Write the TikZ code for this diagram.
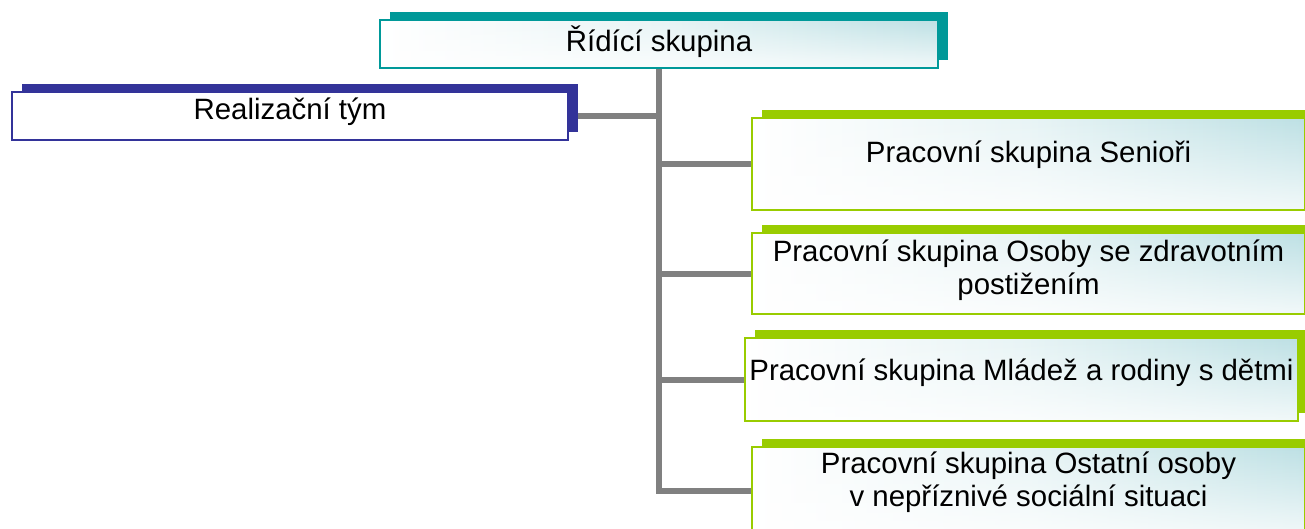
\documentclass[tikz,border=0pt]{standalone}
\usepackage{fontspec}
\setmainfont{Liberation Sans}
\usetikzlibrary{shadows,backgrounds,fadings}
\definecolor{tealc}{HTML}{009999}
\definecolor{navyc}{HTML}{333399}
\definecolor{greenc}{HTML}{99CC00}
\definecolor{linec}{HTML}{808080}
\definecolor{paleteal}{HTML}{BDE0E4}
\tikzset{
  box/.style={rectangle, draw=#1, line width=2pt, inner sep=0pt,
    left color=white, right color=paleteal, middle color=paleteal!35!white,
    path picture={\fill[white, path fading=north, fill opacity=0.8]
      (path picture bounding box.south west) rectangle (path picture bounding box.north east);},
    general shadow={fill=#1, shadow xshift=10pt, shadow yshift=8pt}},
  plainbox/.style={rectangle, draw=#1, line width=1.5pt, inner sep=0pt, fill=white,
    general shadow={fill=#1, shadow xshift=10pt, shadow yshift=8pt}},
  lbl/.style={font=\fontsize{29.4}{33}\selectfont, align=center, inner sep=0pt},
  conn/.style={draw=linec, line width=6pt}
}
\begin{document}
\begin{tikzpicture}[x=1pt,y=-1pt]
\useasboundingbox (0,0) rectangle (1305,528);
% boxes
\node[box=tealc, minimum width=558pt, minimum height=48pt] (rid) at (659,44) {};
\node[plainbox=navyc, minimum width=556pt, minimum height=48pt] (real) at (290,116) {};
\node[box=greenc, minimum width=553pt, minimum height=92pt] (sen) at (1028.5,164) {};
\node[box=greenc, minimum width=553pt, minimum height=81pt] (zdr) at (1028.5,273.5) {};
\node[box=greenc, minimum width=553pt, minimum height=83pt] (mla) at (1021.5,379.5) {};
\node[box=greenc, minimum width=553pt, minimum height=88pt] (ost) at (1028.5,491) {};
% texts
\node[lbl] (ridt) at ([yshift=2pt]rid.center) {Řídící skupina};
\node[lbl] (realt) at ([yshift=4pt]real.center) {Realizační tým};
\node[lbl] (sent) at ([yshift=9pt]sen.center) {Pracovní skupina Senioři};
\node[lbl] (zdrt) at ([yshift=3pt]zdr.center) {Pracovní skupina Osoby se zdravotním\\postižením};
\node[lbl] (mlat) at ([yshift=7pt]mla.center) {Pracovní skupina Mládež a rodiny s dětmi};
\node[lbl] (ostt) at ([yshift=9pt]ost.center) {Pracovní skupina Ostatní osoby\\v nepříznivé sociální situaci};
% connectors
\begin{scope}[on background layer]
\draw[conn] (rid.south) |- (ost.west);
\draw[conn] (real.east) -- (real.east -| rid.south);
\draw[conn] (sen.west -| rid.south) -- (sen.west);
\draw[conn] (zdr.west -| rid.south) -- (zdr.west);
\draw[conn] (mla.west -| rid.south) -- (mla.west);
\end{scope}
\end{tikzpicture}
\end{document}
